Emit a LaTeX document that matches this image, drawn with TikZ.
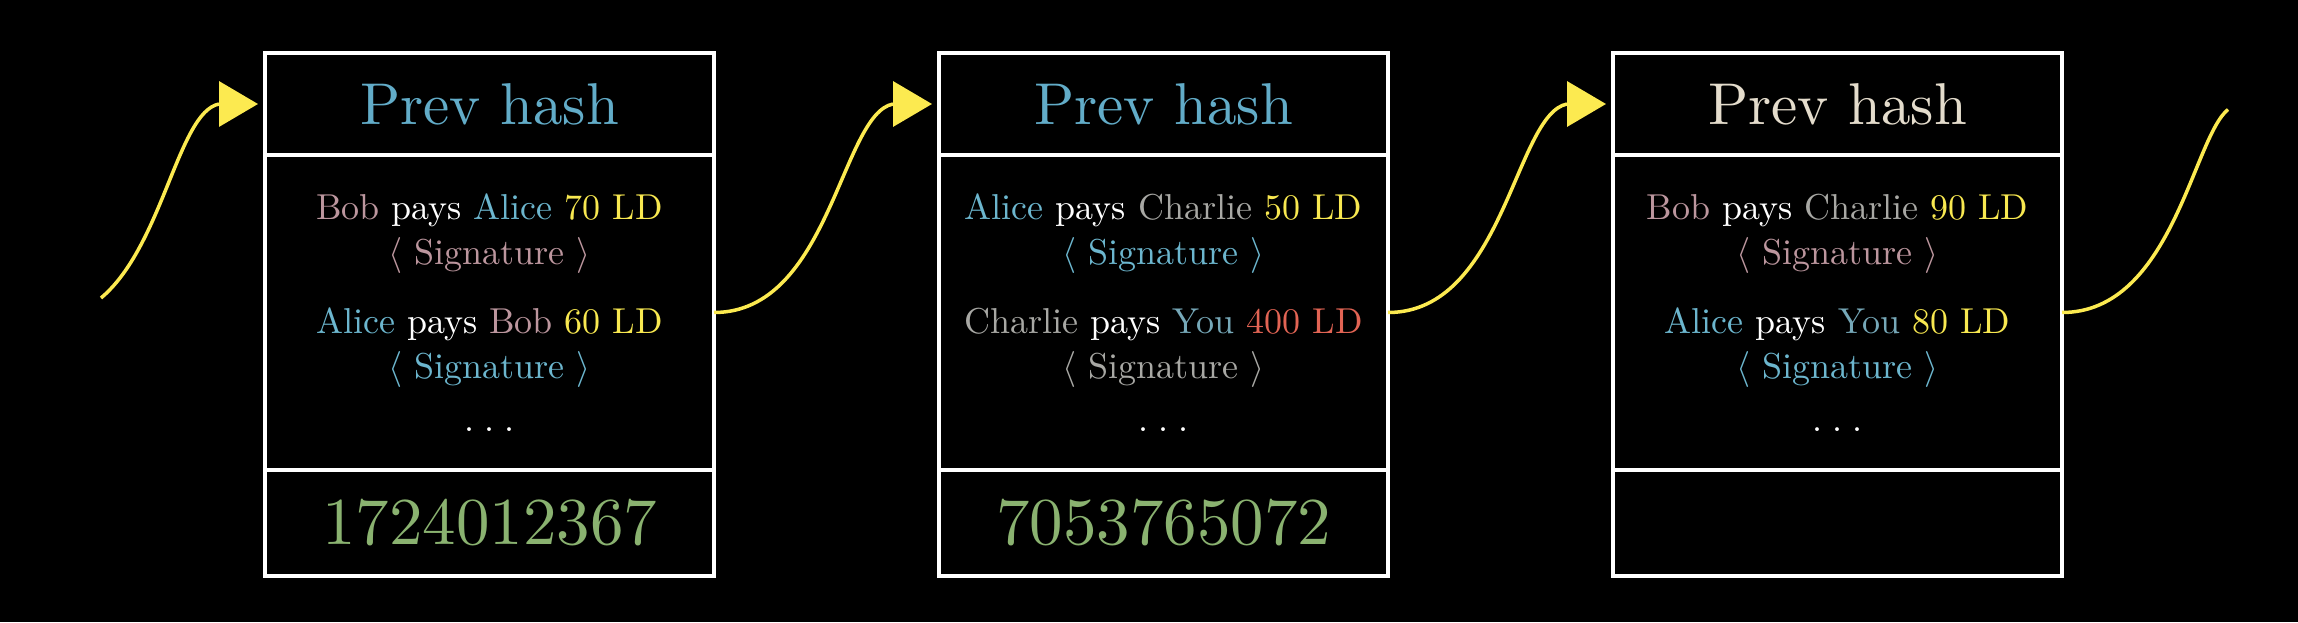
\documentclass[tikz,border=0pt]{standalone}
\usepackage{unicode-math}
\setmainfont{lmroman10-regular.otf}
\usetikzlibrary{positioning,arrows.meta}

\definecolor{hashblue}{RGB}{98,172,200}
\definecolor{hashcream}{RGB}{228,220,204}
\definecolor{bob}{RGB}{188,150,158}
\definecolor{alice}{RGB}{108,182,206}
\definecolor{charlie}{RGB}{168,168,164}
\definecolor{you}{RGB}{118,168,184}
\definecolor{ld}{RGB}{248,232,80}
\definecolor{big}{RGB}{226,100,84}
\definecolor{nonce}{RGB}{138,178,112}
\definecolor{chain}{RGB}{252,234,80}

\newcommand{\etcdots}{.\hspace{0.28em}.\hspace{0.28em}.}

\begin{document}
\begin{tikzpicture}[
  x=1pt, y=1pt,
  node distance = 0pt and 225pt,
  cell/.style  = {draw=white, line width=4pt, minimum width=449pt,
                  inner sep=0pt, outer sep=0pt, align=center, text=white},
  hdr/.style   = {cell, minimum height=102pt, font=\fontsize{59}{70}\selectfont},
  body/.style  = {cell, minimum height=315pt, font=\fontsize{36}{45}\selectfont},
  foot/.style  = {cell, minimum height=106pt, font=\fontsize{67}{80}\selectfont,
                  text=nonce},
  link/.style  = {draw=chain, line width=3.5pt},
  head/.style  = {link, -{Triangle[length=39pt,width=45pt]}},
]
\fill[black] (0,0) rectangle (2298,622);
\useasboundingbox (0,0) rectangle (2298,622);

% blocks
\node[hdr, text=hashblue]        at (489.5,518) (hdr1)  {Prev hash};
\node[body, below=of hdr1]                      (body1) {%
  \textcolor{bob}{Bob} pays \textcolor{alice}{Alice} \textcolor{ld}{70 LD}\\
  \textcolor{bob}{$\langle$ Signature $\rangle$}\\[24pt]
  \textcolor{alice}{Alice} pays \textcolor{bob}{Bob} \textcolor{ld}{60 LD}\\
  \textcolor{alice}{$\langle$ Signature $\rangle$}\\[8pt]
  \etcdots};
\node[foot, below=of body1]                     (foot1) {1724012367};

\node[hdr, text=hashblue, right=of hdr1]        (hdr2)  {Prev hash};
\node[body, below=of hdr2]                      (body2) {%
  \textcolor{alice}{Alice} pays \textcolor{charlie}{Charlie} \textcolor{ld}{50 LD}\\
  \textcolor{alice}{$\langle$ Signature $\rangle$}\\[24pt]
  \textcolor{charlie}{Charlie} pays \textcolor{you}{You} \textcolor{big}{400 LD}\\
  \textcolor{charlie}{$\langle$ Signature $\rangle$}\\[8pt]
  \etcdots};
\node[foot, below=of body2]                     (foot2) {7053765072};

\node[hdr, text=hashcream, right=of hdr2]       (hdr3)  {Prev hash};
\node[body, below=of hdr3]                      (body3) {%
  \textcolor{bob}{Bob} pays \textcolor{charlie}{Charlie} \textcolor{ld}{90 LD}\\
  \textcolor{bob}{$\langle$ Signature $\rangle$}\\[24pt]
  \textcolor{alice}{Alice} pays \textcolor{you}{You} \textcolor{ld}{80 LD}\\
  \textcolor{alice}{$\langle$ Signature $\rangle$}\\[8pt]
  \etcdots};
\node[foot, below=of body3]                     (foot3) {};

% chain links
\coordinate (start1) at (101,324);
\foreach \i in {1,2,3} {
  \coordinate (tip\i)  at ([xshift=-7pt]hdr\i.west);
  \coordinate (base\i) at ([xshift=-46pt]hdr\i.west);
}
\coordinate (end3) at ([shift={(166,203)}]body3.east);

\draw[link] (start1)
  .. controls ([shift={(62,52)}]start1) and ([shift={(-41,-8)}]base1) .. (base1);
\draw[link] (body1.east)
  .. controls ([xshift=116pt]body1.east) and ([shift={(-52,-10)}]base2) .. (base2);
\draw[link] (body2.east)
  .. controls ([xshift=116pt]body2.east) and ([shift={(-52,-10)}]base3) .. (base3);
\draw[link] (body3.east)
  .. controls ([xshift=110pt]body3.east) and ([shift={(-35,-28)}]end3) .. (end3);
\foreach \i in {1,2,3}
  \draw[head] (base\i) -- (tip\i);
\end{tikzpicture}
\end{document}
